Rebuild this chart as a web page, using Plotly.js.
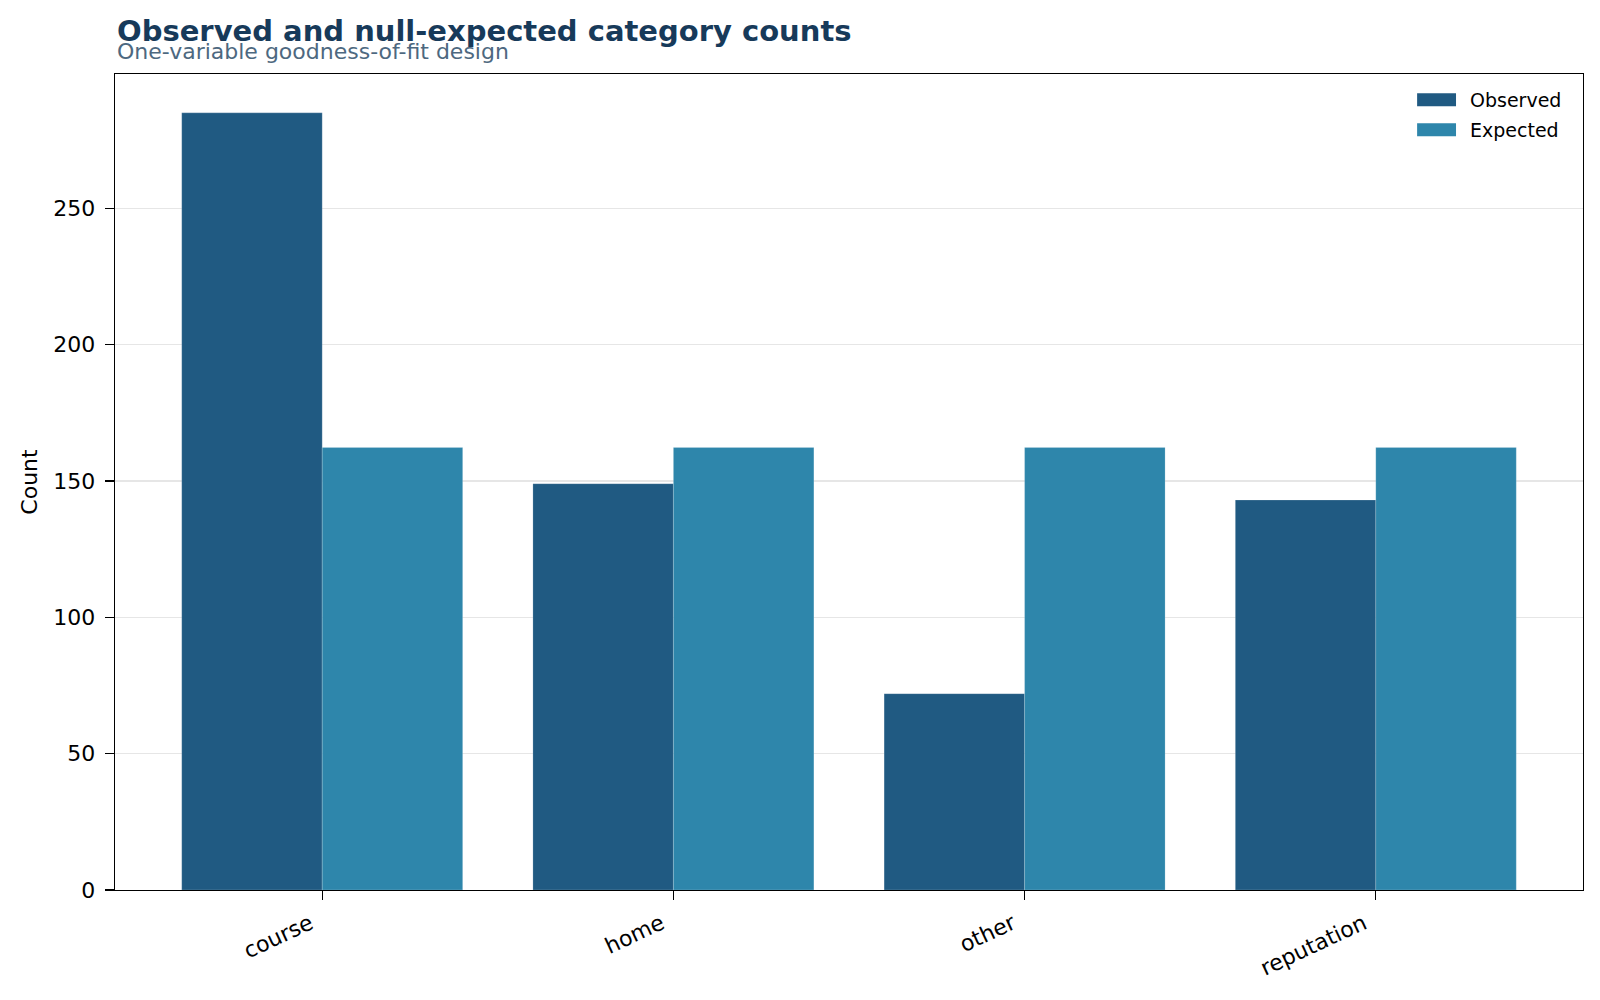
<!DOCTYPE html>
<html>
<head>
<meta charset="utf-8">
<script src="https://cdn.plot.ly/plotly-3.0.1.min.js"></script>
<style>
  html, body { margin: 0; padding: 0; background: #ffffff; }
  #chart { width: 1600px; height: 1000px; }
</style>
</head>
<body>
<div id="chart"></div>
<script>
// Category counts for a one-variable goodness-of-fit test
const categories = ["course", "home", "other", "reputation"];
const observedCounts = [285, 149, 72, 143];
const expectedCounts = [162.25, 162.25, 162.25, 162.25];
const seriesNames = ["Observed", "Expected"];
const seriesColors = ["#205a82", "#2e86ab"];
const yTickValues = [0, 50, 100, 150, 200, 250];

const font = "DejaVu Sans, sans-serif";
const catIndex = categories.map((_, i) => i);

const traces = [
  {
    type: "bar",
    name: seriesNames[0],
    x: catIndex,
    y: observedCounts,
    offset: -0.4,
    width: 0.4,
    marker: { color: seriesColors[0], line: { width: 0.5, color: "rgba(255,255,255,0.35)" } },
    showlegend: false,
    hovertemplate: "%{text}: %{y}<extra>Observed</extra>",
    text: categories,
    textposition: "none"
  },
  {
    type: "bar",
    name: seriesNames[1],
    x: catIndex,
    y: expectedCounts,
    offset: 0,
    width: 0.4,
    marker: { color: seriesColors[1], line: { width: 0.5, color: "rgba(255,255,255,0.35)" } },
    showlegend: false,
    hovertemplate: "%{text}: %{y}<extra>Expected</extra>",
    text: categories,
    textposition: "none"
  }
];

// Legend drawn as swatches + labels in the upper-right corner of the plot
const legendShapes = [];
const legendLabels = [];
seriesNames.forEach((name, i) => {
  const yc = 0.9685 - i * 0.0368;
  legendShapes.push({
    type: "rect", xref: "paper", yref: "paper",
    x0: 0.887, x1: 0.9135, y0: yc - 0.0080, y1: yc + 0.0080,
    fillcolor: seriesColors[i], line: { width: 0 }
  });
  legendLabels.push({
    xref: "paper", yref: "paper", x: 0.922, y: yc,
    xanchor: "left", yanchor: "middle", showarrow: false,
    text: name, font: { family: font, size: 19, color: "#000000" }
  });
});

const layout = {
  width: 1600,
  height: 1000,
  margin: { l: 115, r: 17, t: 74, b: 110, pad: 0 },
  paper_bgcolor: "#ffffff",
  plot_bgcolor: "#ffffff",
  bargap: 0,
  font: { family: font, size: 22, color: "#000000" },
  xaxis: {
    range: [-0.59, 3.59],
    tickmode: "array",
    tickvals: catIndex,
    ticktext: categories,
    tickangle: -25,
    ticks: "outside",
    ticklen: 9,
    tickwidth: 1.2,
    tickcolor: "#000000",
    ticklabelshift: -12,
    ticklabelstandoff: 2,
    showline: true,
    linecolor: "#000000",
    linewidth: 1.4,
    mirror: true,
    showgrid: false,
    zeroline: false,
    tickfont: { family: font, size: 22, color: "#000000" }
  },
  yaxis: {
    range: [0, 299.25],
    tickmode: "array",
    tickvals: yTickValues,
    ticks: "outside",
    ticklen: 9,
    tickwidth: 1.2,
    tickcolor: "#000000",
    ticklabelstandoff: 5,
    showline: true,
    linecolor: "#000000",
    linewidth: 1.4,
    mirror: true,
    showgrid: true,
    gridcolor: "#e6e6e6",
    gridwidth: 1.2,
    zeroline: false,
    tickfont: { family: font, size: 22, color: "#000000" },
    title: { text: "Count", font: { family: font, size: 22, color: "#000000" }, standoff: 9 }
  },
  shapes: legendShapes,
  annotations: [
    {
      xref: "paper", yref: "paper", x: 0, y: 1,
      xanchor: "left", yanchor: "middle", yshift: 43,
      showarrow: false,
      text: "<b>Observed and null-expected category counts</b>",
      font: { family: font, size: 29, color: "#173a5a" }
    },
    {
      xref: "paper", yref: "paper", x: 0, y: 1,
      xanchor: "left", yanchor: "middle", yshift: 23,
      showarrow: false,
      text: "One-variable goodness-of-fit design",
      font: { family: font, size: 22, color: "#4d6880" }
    }
  ].concat(legendLabels)
};

Plotly.newPlot("chart", traces, layout, { displayModeBar: false, staticPlot: true });
</script>
</body>
</html>
